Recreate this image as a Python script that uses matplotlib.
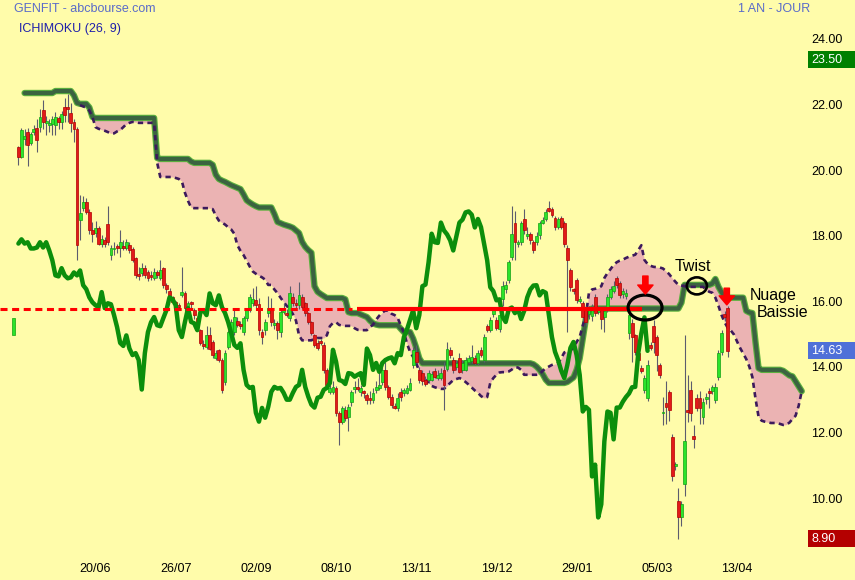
import numpy as np
import matplotlib
matplotlib.use("Agg")
import matplotlib.pyplot as plt
from matplotlib.patches import Ellipse, Rectangle, ArrowStyle

plt.rcParams['font.family'] = ['Liberation Sans', 'DejaVu Sans']

# ---------------- data ----------------
OPEN = [
    20.84, 20.54, 21.10, 21.30, 20.96, 21.30, 21.42, 21.45, 21.96, 21.58,
    21.53, 21.54, 21.51, 21.72, 21.60, 22.05, 22.05, 21.87, 21.60, 21.39,
    18.62, 18.99, 19.17, 18.87, 18.32, 18.22, 18.36, 17.90, 18.00, 18.51,
    17.54, 17.72, 17.80, 17.78, 17.84, 17.75, 17.87, 17.72, 17.45, 16.93,
    16.99, 17.15, 17.02, 16.90, 16.84, 17.02, 16.84, 17.14, 16.63, 16.45,
    16.26, 16.11, 16.02, 16.33, 16.39, 15.93, 16.08, 15.87, 15.63, 15.26,
    14.81, 14.75, 15.10, 14.90, 14.41, 14.66, 14.35, 13.68, 14.75, 15.05,
    15.20, 15.54, 15.45, 15.20, 15.63, 15.87, 16.10, 16.17, 16.07, 15.20,
    15.26, 15.78, 15.87, 15.42, 15.47, 15.20, 15.82, 15.78, 15.63, 16.26,
    16.08, 16.02, 16.26, 16.08, 15.78, 15.51, 15.11, 14.87, 14.90, 14.81,
    14.05, 13.38, 13.38, 13.50, 12.74, 12.47, 12.83, 12.62, 13.08, 13.48,
    13.52, 13.38, 13.40, 13.29, 13.17, 13.14, 13.44, 13.50, 13.68, 14.05,
    13.53, 13.23, 12.96, 12.90, 13.38, 13.35, 13.35, 13.44, 14.20, 14.60,
    14.05, 13.95, 13.74, 13.74, 13.75, 14.00, 13.80, 13.80, 14.05, 14.08,
    14.66, 14.35, 14.14, 14.41, 14.05, 14.05, 14.30, 14.32, 14.41, 14.25,
    14.66, 14.35, 15.38, 15.26, 15.75, 15.57, 15.30, 16.20, 16.50, 16.78,
    17.50, 18.54, 17.90, 17.94, 18.66, 18.12, 18.18, 17.94, 17.94, 18.15,
    18.54, 18.66, 18.97, 18.94, 18.69, 18.42, 18.69, 18.54, 17.78, 17.09,
    16.50, 16.78, 16.15, 16.08, 15.93, 15.75, 15.70, 16.26, 15.82, 15.88,
    15.65, 15.87, 16.26, 16.45, 16.84, 16.69, 16.35, 16.30, 15.17, 15.48,
    15.10, 14.55, 14.10, 13.44, 13.20, 14.80, 15.40, 15.05, 14.20, 12.72,
    13.05, 13.38, 12.01, 11.12, 10.04, 9.55, 10.56, 12.84, 13.44, 12.02,
    13.20, 13.20, 12.60, 13.15, 13.38, 13.40, 13.14, 13.83, 14.60, 15.75,
    15.93,
]
HIGH = [
    20.87, 21.42, 21.40, 21.42, 21.30, 21.50, 21.70, 22.00, 22.27, 21.80,
    21.70, 21.80, 21.90, 21.80, 21.95, 22.35, 22.45, 22.20, 21.70, 21.45,
    19.38, 19.35, 19.30, 18.95, 18.55, 18.60, 18.45, 18.15, 18.10, 19.06,
    17.85, 17.95, 17.90, 18.30, 18.00, 18.05, 17.95, 17.80, 17.50, 17.20,
    17.30, 17.25, 17.10, 17.05, 17.15, 17.10, 17.39, 17.20, 16.70, 16.55,
    16.30, 16.15, 16.10, 17.18, 16.45, 16.15, 16.15, 15.95, 15.70, 15.30,
    14.95, 15.40, 15.35, 14.95, 14.65, 14.70, 14.40, 14.65, 15.25, 15.60,
    15.90, 15.65, 15.55, 15.70, 15.95, 16.35, 16.55, 16.60, 16.25, 15.30,
    15.60, 16.30, 16.25, 15.60, 15.55, 15.90, 16.10, 15.90, 16.60, 16.40,
    16.20, 16.72, 16.35, 16.12, 15.82, 15.55, 15.15, 14.95, 15.00, 14.90,
    14.10, 13.60, 13.70, 13.55, 12.80, 12.95, 12.95, 13.00, 13.45, 13.70,
    13.80, 13.60, 13.45, 13.35, 13.40, 13.50, 13.70, 14.10, 14.20, 14.30,
    13.60, 13.30, 13.05, 13.35, 13.50, 13.50, 13.60, 13.80, 14.75, 14.80,
    14.15, 14.05, 13.85, 14.05, 14.00, 14.10, 14.05, 14.10, 14.30, 14.90,
    14.75, 14.45, 14.35, 14.55, 14.35, 14.45, 14.50, 14.80, 14.50, 14.65,
    14.75, 15.15, 15.45, 15.65, 15.95, 15.65, 15.80, 16.75, 16.75, 17.40,
    19.06, 18.90, 18.00, 18.60, 18.95, 18.40, 18.25, 18.00, 18.25, 18.60,
    18.70, 18.95, 19.20, 19.00, 18.75, 18.70, 18.75, 18.60, 17.85, 17.15,
    16.55, 16.85, 16.30, 16.15, 16.00, 16.00, 16.05, 16.35, 16.00, 15.95,
    16.00, 16.35, 16.60, 16.75, 16.90, 16.75, 16.55, 16.50, 15.85, 15.60,
    15.15, 14.60, 14.20, 13.90, 14.35, 14.90, 15.57, 15.10, 14.25, 13.23,
    13.70, 13.45, 12.10, 11.25, 10.46, 10.05, 15.10, 13.90, 13.70, 12.38,
    13.30, 13.40, 13.20, 13.35, 13.50, 13.60, 13.65, 14.65, 15.25, 15.85,
    16.00,
]
LOW = [
    20.29, 20.50, 20.90, 20.27, 20.90, 21.20, 20.70, 21.30, 21.40, 21.20,
    21.30, 21.20, 21.20, 21.40, 21.40, 21.60, 21.60, 21.30, 21.00, 17.41,
    18.02, 18.90, 18.80, 18.20, 17.95, 18.10, 17.85, 17.80, 17.80, 17.85,
    17.40, 17.55, 17.60, 17.50, 17.70, 17.70, 17.60, 17.35, 16.85, 16.80,
    16.90, 16.85, 16.75, 16.80, 16.80, 16.85, 16.80, 16.55, 16.40, 16.20,
    16.05, 15.95, 15.90, 16.26, 15.85, 15.85, 15.95, 15.60, 15.25, 14.80,
    14.70, 14.70, 14.65, 14.40, 14.35, 14.30, 13.35, 13.60, 14.70, 14.95,
    15.10, 15.35, 15.30, 15.10, 15.55, 15.80, 16.00, 15.95, 15.10, 14.85,
    15.10, 15.65, 15.40, 15.30, 15.00, 15.05, 15.75, 15.65, 15.55, 16.00,
    15.95, 15.90, 15.90, 15.70, 15.45, 15.10, 14.75, 14.65, 14.80, 13.95,
    13.50, 13.30, 13.30, 12.65, 11.77, 12.40, 12.50, 12.20, 12.95, 13.35,
    13.40, 13.25, 13.20, 13.00, 13.00, 13.05, 13.35, 13.45, 13.60, 13.45,
    13.15, 12.90, 12.85, 12.80, 13.10, 13.25, 13.30, 13.40, 14.10, 14.25,
    13.65, 13.60, 13.55, 13.65, 13.70, 13.80, 13.75, 13.75, 12.83, 14.00,
    14.40, 13.95, 14.05, 13.95, 13.95, 14.00, 14.25, 14.25, 14.20, 14.20,
    14.45, 14.30, 15.20, 15.20, 15.65, 15.25, 15.20, 16.00, 16.40, 16.70,
    17.40, 17.40, 17.80, 17.85, 18.20, 18.05, 17.90, 17.60, 17.85, 18.05,
    18.50, 18.60, 18.85, 18.70, 18.30, 18.35, 18.35, 17.80, 15.20, 16.45,
    16.35, 16.10, 16.10, 15.55, 15.40, 15.60, 15.55, 15.70, 15.75, 15.30,
    15.20, 15.80, 16.20, 16.40, 16.55, 16.25, 16.25, 16.20, 15.00, 14.30,
    14.50, 14.20, 13.95, 13.35, 13.10, 14.65, 14.56, 14.00, 13.80, 12.38,
    12.40, 12.50, 10.65, 11.00, 8.90, 9.30, 10.20, 12.47, 12.50, 11.68,
    12.80, 12.40, 12.40, 13.00, 12.90, 13.30, 13.05, 13.75, 14.50, 15.55,
    14.45,
]
CLOSE = [
    20.54, 21.36, 21.17, 20.90, 21.24, 21.39, 21.05, 21.75, 21.60, 21.62,
    21.57, 21.69, 21.75, 21.62, 21.84, 21.81, 21.99, 21.57, 21.39, 17.86,
    18.84, 19.17, 18.87, 18.32, 18.20, 18.38, 17.90, 18.03, 17.90, 17.94,
    17.75, 17.75, 17.78, 17.94, 17.78, 17.94, 17.69, 17.39, 16.93, 16.90,
    17.15, 16.93, 16.84, 16.87, 17.02, 16.93, 17.08, 16.63, 16.51, 16.26,
    16.11, 16.02, 15.96, 16.42, 15.93, 16.08, 16.05, 15.72, 15.35, 14.87,
    14.78, 15.10, 14.70, 14.50, 14.56, 14.35, 13.45, 14.56, 15.20, 15.50,
    15.66, 15.41, 15.38, 15.63, 15.87, 16.26, 16.20, 16.02, 15.26, 15.05,
    15.51, 15.93, 15.51, 15.47, 15.26, 15.80, 15.87, 15.72, 16.38, 16.08,
    16.02, 16.32, 15.96, 15.78, 15.51, 15.17, 14.81, 14.72, 14.86, 14.05,
    13.59, 13.50, 13.53, 12.74, 12.47, 12.89, 12.59, 12.92, 13.38, 13.53,
    13.48, 13.50, 13.35, 13.14, 13.14, 13.35, 13.53, 13.59, 14.05, 13.53,
    13.23, 12.99, 12.90, 13.20, 13.23, 13.44, 13.50, 13.65, 14.66, 14.30,
    13.74, 13.71, 13.62, 13.95, 13.93, 13.84, 13.90, 13.95, 13.59, 14.70,
    14.50, 14.05, 14.26, 13.99, 14.26, 14.35, 14.40, 14.43, 14.25, 14.56,
    14.50, 15.05, 15.28, 15.57, 15.87, 15.32, 15.72, 16.60, 16.65, 17.33,
    18.20, 17.94, 17.92, 18.54, 18.30, 18.18, 18.00, 17.69, 18.12, 18.54,
    18.63, 18.85, 18.88, 18.78, 18.39, 18.65, 18.40, 17.90, 17.39, 16.57,
    16.45, 16.17, 16.20, 15.66, 15.51, 15.90, 15.95, 15.78, 15.90, 15.60,
    15.85, 16.26, 16.50, 16.62, 16.63, 16.32, 16.45, 16.40, 15.72, 15.05,
    14.60, 14.35, 14.03, 13.80, 14.20, 14.72, 14.90, 14.50, 13.90, 12.78,
    12.92, 12.83, 10.80, 11.16, 9.55, 9.95, 11.87, 12.78, 12.74, 11.93,
    12.90, 12.90, 13.08, 13.22, 13.33, 13.52, 13.53, 14.56, 15.17, 15.65,
    14.63,
]
# Senkou span B (solid cloud edge), one value per bar position, projected ahead
SENKOU_B = [
    None, None,
    22.49, 22.49, 22.49, 22.49, 22.49, 22.49, 22.49, 22.49, 22.49, 22.49,
    22.55, 22.55, 22.55, 22.55, 22.55, 22.55,
    22.42, 22.19, 22.16, 22.16, 22.16, 22.05, 21.76,
    21.73, 21.73, 21.73, 21.73, 21.73, 21.73, 21.73, 21.73, 21.73, 21.73,
    21.73, 21.73, 21.73, 21.73, 21.73, 21.73, 21.73, 21.73, 21.73, 21.73,
    20.51,
    20.48, 20.48, 20.48, 20.48, 20.48, 20.48, 20.48, 20.48, 20.48, 20.48,
    20.40,
    20.36, 20.36, 20.36, 20.36, 20.36, 20.36,
    20.30, 20.00, 19.87, 19.82, 19.78, 19.73, 19.68, 19.64, 19.60, 19.56,
    19.40, 19.22, 19.15, 19.09, 19.04,
    19.00, 19.00, 19.00, 19.00, 19.00,
    18.80, 18.56, 18.52, 18.48, 18.45, 18.42, 18.38, 18.30, 18.22, 17.95,
    17.80, 17.70, 17.62, 16.60, 16.43, 16.36, 16.30,
    16.24, 16.24, 16.24, 16.24, 16.24, 16.24,
    16.20, 15.81,
    15.78, 15.78, 15.78,
    15.74, 15.70, 15.66, 15.55, 15.47, 15.43,
    15.41, 15.41, 15.41, 15.41, 15.41, 15.41, 15.41,
    15.30,
    15.20, 15.20, 15.20,
    15.00, 14.72, 14.40,
    14.25, 14.25, 14.25, 14.25, 14.25, 14.25, 14.25, 14.25, 14.25, 14.25,
    14.25, 14.25, 14.25, 14.25, 14.25, 14.25, 14.25, 14.25, 14.25, 14.25,
    14.25, 14.25, 14.25, 14.25, 14.25, 14.25, 14.25, 14.25, 14.25, 14.25,
    14.25, 14.25, 14.25, 14.25, 14.25, 14.25,
    14.22, 14.15, 14.05, 13.92, 13.75,
    13.65, 13.65, 13.65, 13.65, 13.65, 13.65,
    13.68, 13.75, 13.82, 14.05, 14.40, 15.00, 15.60, 15.87,
    15.92, 15.92, 15.92, 15.92, 15.92, 15.92, 15.92, 15.92, 15.92, 15.92,
    15.92, 15.92, 15.92, 15.92, 15.92, 15.92, 15.92, 15.92, 15.92, 15.92,
    15.92, 15.92, 15.92, 15.92, 15.92, 15.92, 15.92, 15.92, 15.92,
    16.10,
    16.64, 16.64, 16.64, 16.64, 16.64, 16.64, 16.64, 16.64, 16.64,
    16.68, 16.82, 16.58, 16.42, 16.27,
    16.25, 16.25, 16.25, 16.25, 16.25, 16.25,
    15.85, 15.80, 15.78, 14.90, 14.10,
    14.05, 14.05, 14.05, 14.05, 14.05, 14.05, 14.05,
    14.02, 13.95, 13.88, 13.85, 13.70, 13.55, 13.40,
]
# Senkou span A (dashed cloud edge)
SENKOU_A = [
    None, None, None, None, None, None, None, None, None, None,
    None, None, None, None, None, None, None, None, None, None,
    22.12, 22.08, 22.05, 21.95, 21.76, 21.45, 21.40, 21.37, 21.34, 21.30,
    21.26, 21.26, 21.32, 21.36, 21.45, 21.54, 21.58, 21.61, 21.60, 21.58,
    21.58, 21.58, 21.58, 21.58, 21.58, 20.36, 19.93, 19.93, 19.93, 19.93,
    19.93, 19.90, 19.87, 19.80, 19.45, 19.20, 19.00, 18.98, 18.98, 18.98,
    18.98, 18.98, 18.98, 18.95, 18.75, 18.60, 18.54, 18.48, 18.40, 18.33,
    18.20, 17.85, 17.68, 17.55, 17.38, 17.20, 17.05, 16.98, 16.92, 16.87,
    16.80, 16.64, 16.64, 16.50, 16.39, 16.25, 16.12, 16.00, 15.90, 15.75,
    15.55, 15.10, 14.95, 14.95, 14.95, 14.95, 15.00, 15.02, 15.02, 15.02,
    15.10, 15.38, 15.48, 15.50, 15.42, 15.40, 15.39, 15.39, 15.39, 15.32,
    15.27, 15.26, 15.26, 15.26, 15.35, 15.43, 15.58, 15.70, 15.80, 15.86,
    15.85, 15.76, 15.72, 15.63, 15.40, 15.20, 14.85, 14.60, 14.44, 14.25,
    14.00, 13.85, 13.74, 13.65, 13.56, 13.52, 13.49, 13.47, 13.47, 13.56,
    13.65, 13.74, 13.77, 13.80, 13.76, 13.68, 13.60, 13.51, 13.42, 13.35,
    13.25, 13.19, 13.22, 13.65, 13.80, 13.90, 13.97, 13.98, 13.98, 14.00,
    14.06, 14.13, 14.12, 14.05, 13.90, 13.90, 13.90, 13.90, 13.90, 13.92,
    14.02, 14.10, 14.15, 14.20, 14.23, 14.26, 14.40, 14.58, 14.62, 14.64,
    14.72, 14.90, 15.05, 15.40, 15.70, 16.40, 16.50, 16.52, 16.54, 16.60,
    16.85, 17.00, 17.12, 17.25, 17.33, 17.38, 17.41, 17.46, 17.50, 17.53,
    17.56, 17.70, 17.85, 17.40, 17.28, 17.22, 17.19, 17.18, 17.17, 17.14,
    17.06, 16.97, 16.85, 16.74, 16.64, 16.62, 16.60, 16.58, 16.58, 16.58,
    16.58, 16.58, 16.58, 16.50, 16.43, 16.40, 16.25, 16.00, 15.72, 15.50,
    15.33, 15.25, 15.13, 14.92, 14.72, 14.55, 14.38, 14.15, 13.83, 13.18,
    12.62, 12.50, 12.47, 12.45, 12.43, 12.43, 12.43, 12.40, 12.37, 12.38,
    12.44, 12.55, 12.65, 12.95, 13.40,
]
CHIKOU_SHIFT = 26
EDGE_BAR = (-1.7, 15.11, 15.63)     # partial bar cut by the left edge: x, low, high
X_TICK_POS = [25, 51, 77, 103, 129, 155, 181, 207, 233]
X_TICK_LABELS = ['20/06', '26/07', '02/09', '08/10', '13/11', '19/12', '29/01', '05/03', '13/04']
Y_TICKS = [10, 12, 14, 16, 18, 20, 22, 24]
Y_TICK_LABELS = ['10.00', '12.00', '14.00', '16.00', '18.00', '20.00', '22.00', '24.00']
TAG_VALUES = [23.50, 14.63, 8.90]
TAG_LABELS = ['23.50', '14.63', '8.90']
TAG_COLORS = ['#008000', '#4F70D8', '#B40000']
REF_LEVEL = 15.89          # horizontal support line
REF_DASH_RANGE = (-6.0, 108.1)
REF_SOLID_RANGE = (109.8, 202.2)
ELLIPSES = [((203.2, 15.95), 11.0, 0.76, 2.3), ((220.0, 16.61), 6.5, 0.52, 1.9)]
ARROWS = [((203.3, 16.91), (203.3, 16.36)), ((229.7, 16.54), (229.7, 16.03))]
NOTES = [('Twist', 218.7, 17.07, 'center'), ('Nuage', 237.2, 16.18, 'left'),
         ('Baissie', 239.5, 15.66, 'left')]

# ---------------- styling ----------------
BG = '#FFFCAA'
PINK = '#EBB3B3'
W, H = 855, 580

fig = plt.figure(figsize=(W / 100, H / 100), dpi=100)
fig.patch.set_facecolor(BG)
ax = fig.add_axes([0, 25 / H, 805 / W, 555 / H])
ax.set_facecolor(BG)
ax.set_xlim(-5.97, 255.06)
ax.set_ylim(8.405, 25.326)
for s in ax.spines.values():
    s.set_visible(False)

o = np.array(OPEN, float)
h = np.array(HIGH, float)
l = np.array(LOW, float)
c = np.array(CLOSE, float)
n = len(c)
idx = np.arange(n)

sa = np.array(SENKOU_A, dtype=float)
sb = np.array(SENKOU_B, dtype=float)
ci = np.arange(len(sb))
ca = np.arange(len(sa))

# cloud
m = min(len(sa), len(sb))
both = ~np.isnan(sa[:m]) & ~np.isnan(sb[:m])
ax.fill_between(np.arange(m), sa[:m], sb[:m], where=both, color=PINK,
                lw=0, zorder=1, interpolate=True)
ax.plot(ci, sb, color='#5BB03E', lw=4.6, zorder=2, solid_joinstyle='round',
        solid_capstyle='round')
ax.plot(ci, sb, color='#3B6340', lw=3.0, zorder=2.1, solid_joinstyle='round',
        solid_capstyle='round')
ax.plot(ca, sa, color='#3C1A5C', lw=1.9, ls=(0, (2.0, 1.6)), zorder=2.2)

# candles
ax.vlines(idx, l, h, color='#5C5C6E', lw=0.8, zorder=3)
up = c >= o
bot = np.minimum(o, c)
hgt = np.maximum(np.abs(c - o), 0.06)
ax.bar(idx[up], hgt[up], bottom=bot[up], width=0.92, color='#2BE32B',
       edgecolor='#12A012', lw=0.5, zorder=4)
ax.bar(idx[~up], hgt[~up], bottom=bot[~up], width=0.92, color='#E21A1A',
       edgecolor='#B00000', lw=0.5, zorder=4)
ax.bar([EDGE_BAR[0]], [EDGE_BAR[2] - EDGE_BAR[1]], bottom=[EDGE_BAR[1]],
       width=0.92, color='#2BE32B', edgecolor='#12A012', lw=0.5, zorder=4)

# chikou (lagging close)
ax.plot(idx[:n - CHIKOU_SHIFT], c[CHIKOU_SHIFT:], color='#0C8E0C', lw=3.2,
        zorder=5, solid_joinstyle='round', solid_capstyle='round')

# horizontal red level
ax.plot(REF_DASH_RANGE, [REF_LEVEL, REF_LEVEL], color='#FF0000', lw=2.2,
        ls=(0, (2.3, 1.5)), zorder=6)
ax.plot(REF_SOLID_RANGE, [REF_LEVEL, REF_LEVEL], color='#FF0000', lw=3.0,
        zorder=6, solid_capstyle='butt')

# annotations
for (cx, cy), ew, eh, lw in ELLIPSES:
    ax.add_patch(Ellipse((cx, cy), ew, eh, fill=False, ec='black', lw=lw, zorder=8))
for tail, tip in ARROWS:
    ax.annotate('', xy=tip, xytext=tail, zorder=9,
                arrowprops=dict(arrowstyle=ArrowStyle('simple', head_length=0.65,
                                                      head_width=1.1, tail_width=0.38),
                                fc='#FF0000', ec='#FF0000', mutation_scale=10,
                                shrinkA=0, shrinkB=0))
for txt, tx, ty, ha in NOTES:
    ax.text(tx, ty, txt, fontsize=11.5, color='black', ha=ha, va='baseline',
            zorder=9, clip_on=False)

# axes ticks
ax.yaxis.tick_right()
ax.set_yticks(Y_TICKS, labels=Y_TICK_LABELS, va='baseline')
ax.tick_params(axis='y', length=0, pad=4.3, labelsize=9, labelcolor='black')
ax.set_xticks(X_TICK_POS, labels=X_TICK_LABELS)
ax.tick_params(axis='x', length=0, pad=5.5, labelsize=9, labelcolor='black')

# price tags on the right
fig.canvas.draw()
for val, lab, col in zip(TAG_VALUES, TAG_LABELS, TAG_COLORS):
    ypix = ax.transData.transform((0, val))[1]
    fig.add_artist(Rectangle((808 / W, (ypix - 8.5) / H), 47 / W, 17 / H,
                             transform=fig.transFigure, fc=col, ec='none', zorder=10))
    fig.text(811 / W, ypix / H, lab, color='white', fontsize=9, ha='left',
             va='center', zorder=11)

# header texts
fig.text(14 / W, 1 - 9 / H, 'GENFIT - abcbourse.com', color='#5A6BC9',
         fontsize=9, ha='left', va='center')
fig.text(19 / W, 1 - 29 / H, 'ICHIMOKU (26, 9)', color='#1F1FAA',
         fontsize=9, ha='left', va='center')
fig.text(738 / W, 1 - 9 / H, '1 AN - JOUR', color='#5A6BC9',
         fontsize=9, ha='left', va='center')

fig.savefig('out.png', dpi=100, facecolor=BG)
